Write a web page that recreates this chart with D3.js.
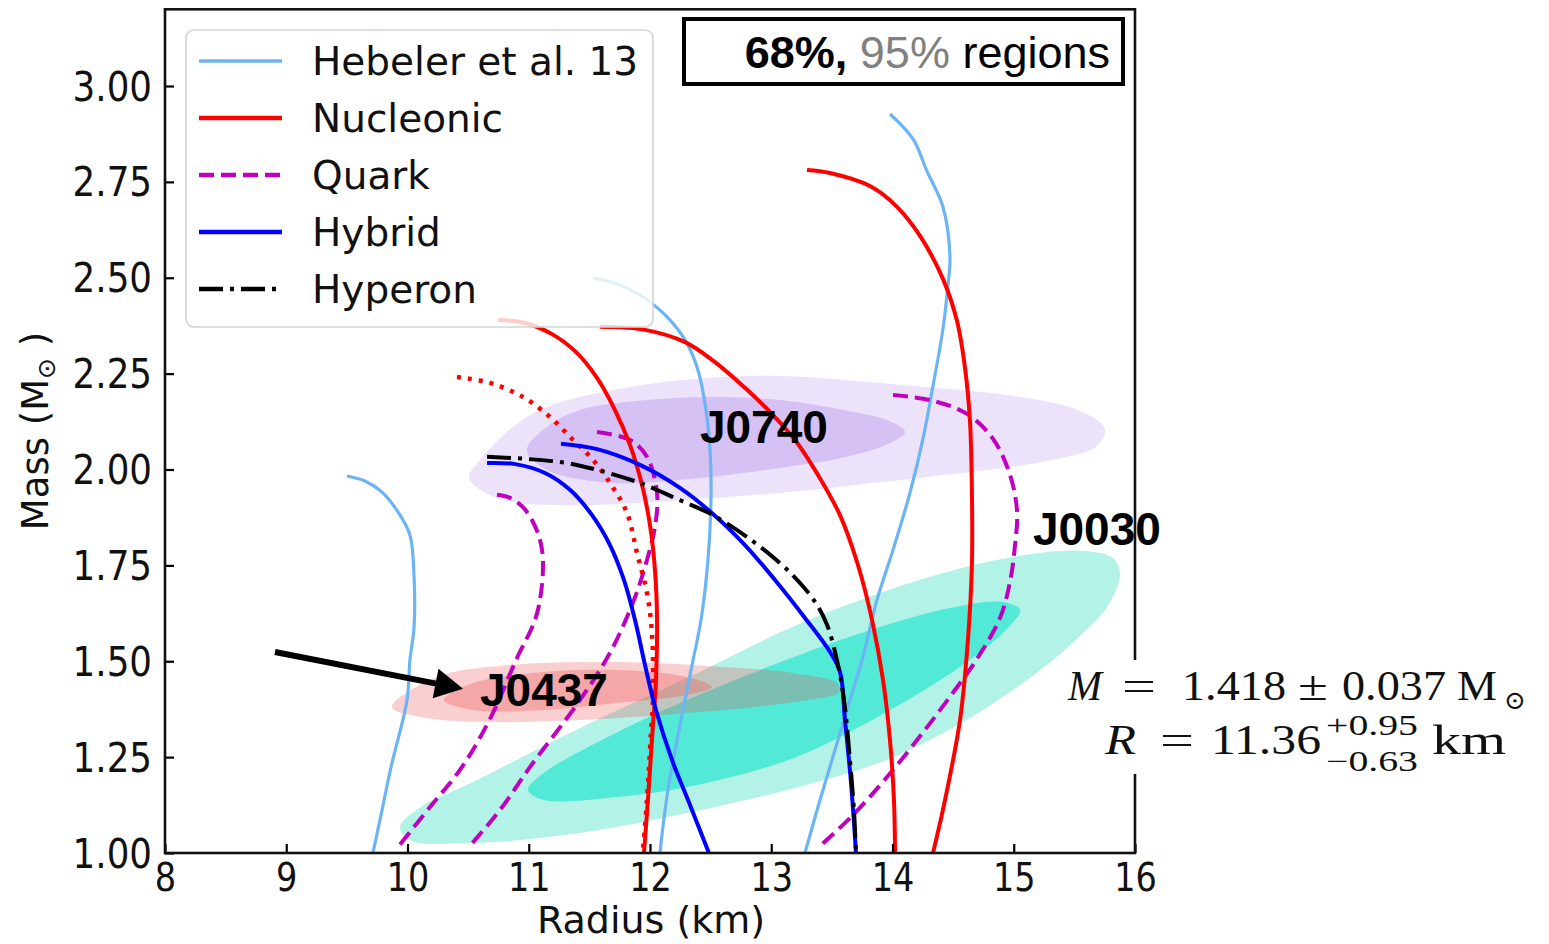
<!DOCTYPE html>
<html>
<head>
<meta charset="utf-8">
<script src="https://cdn.jsdelivr.net/npm/d3@7"></script>
<style>
  body { margin: 0; background: #fff; }
</style>
</head>
<body>
<svg id="chart" width="1549" height="944" font-family="DejaVu Sans, sans-serif"></svg>
<script>
// ---- axis ticks ----
const radiusTicks = [8, 9, 10, 11, 12, 13, 14, 15, 16];
const massTicks = [1.00, 1.25, 1.50, 1.75, 2.00, 2.25, 2.50, 2.75, 3.00];

// ---- mass-radius curves, points are [radius (km), mass (Msun)] ----
const hebelerSoft = [[9.50,1.983],[9.649,1.970],[9.790,1.941],[9.922,1.889],[10.02,1.829],[10.054,1.720],[10.054,1.589],[10.02,1.503],[9.996,1.399],[9.864,1.224],[9.790,1.112],[9.715,1.0]];
const hebelerMid = [[11.530,2.499],[11.711,2.486],[11.917,2.455],[12.124,2.403],[12.289,2.338],[12.396,2.259],[12.462,2.155],[12.495,2.051],[12.503,1.920],[12.478,1.764],[12.421,1.608],[12.355,1.503],[12.256,1.347],[12.148,1.164],[12.082,1.0]];
const hebelerStiff = [[13.979,2.927],[14.169,2.862],[14.284,2.778],[14.416,2.685],[14.474,2.554],[14.457,2.479],[14.416,2.366],[14.334,2.218],[14.251,2.080],[14.144,1.939],[14.004,1.790],[13.872,1.660],[13.756,1.511],[13.649,1.399],[13.526,1.269],[13.402,1.138],[13.278,1.0]];

const nucleonicA = [[10.746,2.390],[10.969,2.382],[11.192,2.353],[11.390,2.306],[11.563,2.239],[11.711,2.155],[11.835,2.064],[11.934,1.960],[12.000,1.855],[12.041,1.738],[12.058,1.608],[12.049,1.451],[12.016,1.295],[11.983,1.138],[11.950,1.0]];
const nucleonicB = [[11.587,2.372],[11.959,2.364],[12.289,2.332],[12.536,2.280],[12.783,2.213],[12.990,2.150],[13.196,2.077],[13.385,1.986],[13.567,1.881],[13.715,1.751],[13.831,1.608],[13.922,1.451],[13.979,1.295],[14.012,1.138],[14.021,1.0]];
const nucleonicC = [[13.295,2.781],[13.484,2.773],[13.814,2.739],[14.037,2.685],[14.227,2.609],[14.416,2.497],[14.532,2.387],[14.598,2.265],[14.639,2.126],[14.655,1.939],[14.655,1.754],[14.622,1.555],[14.557,1.347],[14.433,1.138],[14.334,1.0]];
const nucleonicDotted = [[10.408,2.241],[10.680,2.226],[10.952,2.189],[11.175,2.137],[11.365,2.077],[11.530,2.025],[11.670,1.965],[11.810,1.887],[11.893,1.782],[11.975,1.678],[12.016,1.574],[12.025,1.407],[12.008,1.313],[11.975,1.138],[11.940,1.0]];

const quarkA = [[10.738,1.934],[10.845,1.926],[10.952,1.902],[11.035,1.863],[11.093,1.816],[11.117,1.764],[11.101,1.678],[11.052,1.608],[10.895,1.503],[10.689,1.355],[10.449,1.224],[10.186,1.120],[9.922,1.016]];
const quarkB = [[11.563,2.098],[11.835,2.077],[11.975,2.033],[12.058,1.939],[12.041,1.850],[11.975,1.764],[11.868,1.660],[11.670,1.522],[11.423,1.399],[11.010,1.224],[10.763,1.112],[10.507,1.016]];
const quarkC = [[14.004,2.194],[14.309,2.181],[14.614,2.145],[14.829,2.080],[14.969,1.986],[15.027,1.892],[15.010,1.801],[14.969,1.707],[14.887,1.613],[14.680,1.498],[14.515,1.425],[14.268,1.321],[13.955,1.198],[13.658,1.094],[13.394,1.016]];

const hybridA = [[10.656,2.017],[10.887,2.014],[11.134,1.991],[11.340,1.947],[11.522,1.881],[11.670,1.803],[11.785,1.712],[11.876,1.608],[11.959,1.490],[12.049,1.373],[12.181,1.243],[12.330,1.125],[12.486,1.0]];
const hybridB = [[11.266,2.067],[11.563,2.053],[11.917,2.012],[12.247,1.952],[12.519,1.884],[12.783,1.803],[13.031,1.712],[13.278,1.613],[13.485,1.524],[13.567,1.472],[13.608,1.347],[13.658,1.183],[13.699,1.0]];

const hyperon = [[10.656,2.033],[11.010,2.027],[11.315,2.017],[11.563,1.999],[11.917,1.965],[12.247,1.920],[12.519,1.881],[12.800,1.824],[13.072,1.756],[13.237,1.704],[13.361,1.655],[13.460,1.595],[13.542,1.503],[13.600,1.399],[13.649,1.243],[13.682,1.112],[13.699,1.0]];

// ---- 68% / 95% credible regions, boundary points [radius (km), mass (Msun)] ----
const j0740Outer = [[10.507,1.980],[10.598,2.025],[10.870,2.111],[11.150,2.163],[11.695,2.207],[12.247,2.233],[13.072,2.244],[14.169,2.218],[14.993,2.192],[15.546,2.153],[15.752,2.106],[15.686,2.061],[15.274,2.022],[14.449,1.986],[13.625,1.957],[13.072,1.939],[12.247,1.920],[11.423,1.907],[10.870,1.915],[10.598,1.947]];
const j0740Inner = [[10.985,2.051],[11.150,2.111],[11.423,2.155],[11.975,2.181],[12.519,2.189],[13.072,2.181],[13.625,2.153],[13.979,2.126],[14.103,2.098],[13.979,2.069],[13.625,2.033],[13.072,2.004],[12.247,1.973],[11.695,1.965],[11.150,1.999]];
const j0030Outer = [[9.938,1.068],[10.095,1.117],[10.540,1.185],[11.423,1.326],[12.305,1.456],[13.155,1.587],[13.897,1.678],[14.449,1.733],[14.993,1.772],[15.546,1.788],[15.818,1.769],[15.876,1.725],[15.769,1.641],[15.546,1.566],[15.324,1.503],[15.052,1.438],[14.639,1.352],[13.955,1.243],[13.188,1.169],[12.305,1.104],[11.423,1.052],[10.540,1.026],[10.012,1.034]];
const j0030Inner = [[10.994,1.164],[11.126,1.209],[11.719,1.313],[12.305,1.399],[13.188,1.511],[13.955,1.595],[14.474,1.639],[14.887,1.655],[15.052,1.634],[14.944,1.584],[14.614,1.498],[13.955,1.368],[13.188,1.248],[12.305,1.172],[11.719,1.146],[11.126,1.138]];
const j0437Outer = [[9.872,1.381],[10.243,1.459],[10.837,1.490],[11.719,1.498],[12.602,1.485],[13.188,1.469],[13.542,1.443],[13.558,1.420],[13.188,1.394],[12.305,1.365],[11.423,1.347],[10.540,1.342],[10.095,1.355]];
const j0437Inner = [[10.301,1.399],[10.540,1.443],[11.126,1.472],[11.719,1.477],[12.305,1.459],[12.511,1.433],[12.305,1.412],[11.719,1.391],[11.126,1.373],[10.540,1.373]];

// ---- legend entries and pulsar labels ----
const legendLabels = ["Hebeler et al. 13", "Nucleonic", "Quark", "Hybrid", "Hyperon"];
const pulsarNames = ["J0740", "J0030", "J0437"];
const pulsarLabelAt = [[12.412, 2.069], [15.158, 1.803], [10.598, 1.383]];
const arrowFrom = [8.907, 1.524];
const arrowTo = [10.458, 1.428];

// ---- styles ----
const styles = {
  hebeler:  { stroke: "#6cb4f4", width: 3.2, dash: null },
  nucleonic:{ stroke: "#ff0000", width: 4, dash: null },
  dotted:   { stroke: "#ff0000", width: 4.5, dash: "4,7" },
  quark:    { stroke: "#bf00bf", width: 4, dash: "15,7" },
  hybrid:   { stroke: "#0000ff", width: 4, dash: null },
  hyperon:  { stroke: "#000000", width: 4, dash: "24,7,4,7" }
};

const curves = [
  { pts: hebelerSoft, s: "hebeler" }, { pts: hebelerMid, s: "hebeler" }, { pts: hebelerStiff, s: "hebeler" },
  { pts: quarkA, s: "quark" }, { pts: quarkB, s: "quark" }, { pts: quarkC, s: "quark" },
  { pts: nucleonicDotted, s: "dotted" },
  { pts: nucleonicA, s: "nucleonic" }, { pts: nucleonicB, s: "nucleonic" }, { pts: nucleonicC, s: "nucleonic" },
  { pts: hybridA, s: "hybrid" }, { pts: hybridB, s: "hybrid" },
  { pts: hyperon, s: "hyperon" }
];

const regions = [
  { pts: j0030Outer, fill: "#b3f2e7", op: 1 },
  { pts: j0030Inner, fill: "#52e9d7", op: 1 },
  { pts: j0740Outer, fill: "#ece2fa", op: 1 },
  { pts: j0740Inner, fill: "#d5c1f4", op: 1 },
  { pts: j0437Outer, fill: "#eb5252", op: 0.28 },
  { pts: j0437Inner, fill: "#eb5252", op: 0.32 }
];

// ---- layout ----
const svg = d3.select("#chart");
const x = d3.scaleLinear().domain([8, 16]).range([165, 1135]);
const y = d3.scaleLinear().domain([1, 3.2]).range([853, 9.3]);

const area = d3.line().x(d => x(d[0])).y(d => y(d[1])).curve(d3.curveCatmullRomClosed.alpha(0.5));
const path = d3.line().x(d => x(d[0])).y(d => y(d[1])).curve(d3.curveCatmullRom.alpha(0.5));

// regions
svg.append("g").selectAll("path").data(regions).join("path")
  .attr("d", d => area(d.pts))
  .attr("fill", d => d.fill)
  .attr("fill-opacity", d => d.op)
  .attr("stroke", "none");

// curves
svg.append("g").selectAll("path").data(curves).join("path")
  .attr("d", d => path(d.pts))
  .attr("fill", "none")
  .attr("stroke", d => styles[d.s].stroke)
  .attr("stroke-width", d => styles[d.s].width)
  .attr("stroke-dasharray", d => styles[d.s].dash)
  .attr("stroke-linejoin", "round");

// axes (inward ticks)
const yAxis = d3.axisLeft(y).tickValues(massTicks).tickSize(-9).tickSizeOuter(0).tickFormat(d3.format(".2f"));
const xAxis = d3.axisBottom(x).tickValues(radiusTicks).tickSize(-9).tickSizeOuter(0).tickFormat(d3.format("d"));

const gy = svg.append("g").attr("transform", "translate(165,0)").call(yAxis);
gy.attr("font-family", null).attr("font-size", null);
gy.select(".domain").remove();
gy.selectAll(".tick line").attr("stroke", "#000").attr("stroke-width", 2.2);
gy.selectAll(".tick text")
  .attr("x", null).attr("dy", null)
  .attr("transform", "translate(-13,14) scale(0.87,1)")
  .attr("font-size", 41).attr("fill", "#111");

const gx = svg.append("g").attr("transform", "translate(0,853)").call(xAxis);
gx.attr("font-family", null).attr("font-size", null);
gx.select(".domain").remove();
gx.selectAll(".tick line").attr("stroke", "#000").attr("stroke-width", 2.2);
gx.selectAll(".tick text")
  .attr("y", null).attr("dy", null)
  .attr("transform", "translate(0,38) scale(0.86,1)")
  .attr("font-size", 39).attr("fill", "#111");

// frame
svg.append("rect")
  .attr("x", 165).attr("y", 9.3).attr("width", 970).attr("height", 843.7)
  .attr("fill", "none").attr("stroke", "#111").attr("stroke-width", 2.6);

// axis titles
svg.append("text").attr("x", 651).attr("y", 933).attr("text-anchor", "middle")
  .attr("font-size", 38).attr("fill", "#111").text("Radius (km)");

const yt = svg.append("text").attr("transform", "translate(48,431) rotate(-90)")
  .attr("text-anchor", "middle").attr("font-size", 37).attr("fill", "#111");
yt.append("tspan").text("Mass (M");
yt.append("tspan").attr("font-size", 25).attr("dy", 7).text("\u2299");
yt.append("tspan").attr("dy", -7).text(" )");

// pulsar labels and arrow
svg.append("g").selectAll("text").data(pulsarNames).join("text")
  .attr("x", (d, i) => x(pulsarLabelAt[i][0]))
  .attr("y", (d, i) => y(pulsarLabelAt[i][1]))
  .attr("font-family", "Liberation Sans, Arial, sans-serif")
  .attr("font-weight", "bold").attr("font-size", 46).attr("fill", "#000")
  .text(d => d);

{
  const x0 = x(arrowFrom[0]), y0 = y(arrowFrom[1]);
  const x1 = x(arrowTo[0]), y1 = y(arrowTo[1]);
  const ang = Math.atan2(y1 - y0, x1 - x0);
  const headLen = 28, headHalf = 15;
  const bx = x1 - headLen * Math.cos(ang), by = y1 - headLen * Math.sin(ang);
  svg.append("line").attr("x1", x0).attr("y1", y0).attr("x2", bx + 2 * Math.cos(ang)).attr("y2", by + 2 * Math.sin(ang))
    .attr("stroke", "#000").attr("stroke-width", 6);
  const px = -Math.sin(ang), py = Math.cos(ang);
  svg.append("path")
    .attr("d", `M${x1},${y1}L${bx + headHalf * px},${by + headHalf * py}L${bx - headHalf * px},${by - headHalf * py}Z`)
    .attr("fill", "#000");
}

// legend
const legend = svg.append("g");
legend.append("rect").attr("x", 186).attr("y", 30).attr("width", 467).attr("height", 297).attr("rx", 8)
  .attr("fill", "#fff").attr("fill-opacity", 0.8).attr("stroke", "#d4d4d4").attr("stroke-width", 1.6);
const legendStyle = ["hebeler", "nucleonic", "quark", "hybrid", "hyperon"];
legendLabels.forEach((lab, i) => {
  const ly = 61 + i * 57;
  const st = styles[legendStyle[i]];
  legend.append("line").attr("x1", 199).attr("x2", 282).attr("y1", ly).attr("y2", ly)
    .attr("stroke", st.stroke).attr("stroke-width", st.width + 0.3).attr("stroke-dasharray", st.dash);
  legend.append("text").attr("x", 312).attr("y", ly + 14).attr("font-size", 39).attr("fill", "#111").text(lab);
});

// confidence-level box
svg.append("rect").attr("x", 684).attr("y", 19).attr("width", 439).attr("height", 65)
  .attr("fill", "#fff").attr("stroke", "#000").attr("stroke-width", 4);
const ct = svg.append("text").attr("x", 1110).attr("y", 68).attr("text-anchor", "end")
  .attr("font-family", "Liberation Sans, Arial, sans-serif").attr("font-size", 45).attr("fill", "#000");
ct.append("tspan").attr("font-weight", "bold").text("68%,");
ct.append("tspan").text(" ");
ct.append("tspan").attr("fill", "#808080").text("95%");
ct.append("tspan").text(" regions");

// J0437 measurement
svg.append("rect").attr("x", 1060).attr("y", 660).attr("width", 480).attr("height", 114).attr("fill", "#fff");
const serif = "Liberation Serif, 'DejaVu Serif', serif";
function put(txt, xx, yy, size, opts = {}) {
  const t = svg.append("text").attr("x", xx).attr("y", yy).attr("font-family", serif)
    .attr("font-size", size).attr("fill", "#111").text(txt);
  if (opts.italic) t.attr("font-style", "italic");
  if (opts.len) t.attr("textLength", opts.len).attr("lengthAdjust", "spacingAndGlyphs");
  return t;
}
put("M", 1068, 700, 43, { italic: true, len: 34 });
put("=", 1122, 700, 43, { len: 34 });
put("1.418", 1182, 700, 43, { len: 104 });
put("\u00b1", 1298, 700, 43, { len: 30 });
put("0.037", 1342, 700, 43, { len: 104 });
put("M", 1457, 700, 43, { len: 40 });
put("\u2299", 1504, 709, 26);
put("R", 1105, 754, 43, { italic: true, len: 31 });
put("=", 1160, 754, 43, { len: 34 });
put("11.36", 1211, 754, 43, { len: 110 });
put("+0.95", 1326, 735, 29, { len: 92 });
put("\u22120.63", 1326, 771, 29, { len: 92 });
put("km", 1432, 754, 43, { len: 74 });
</script>
</body>
</html>
